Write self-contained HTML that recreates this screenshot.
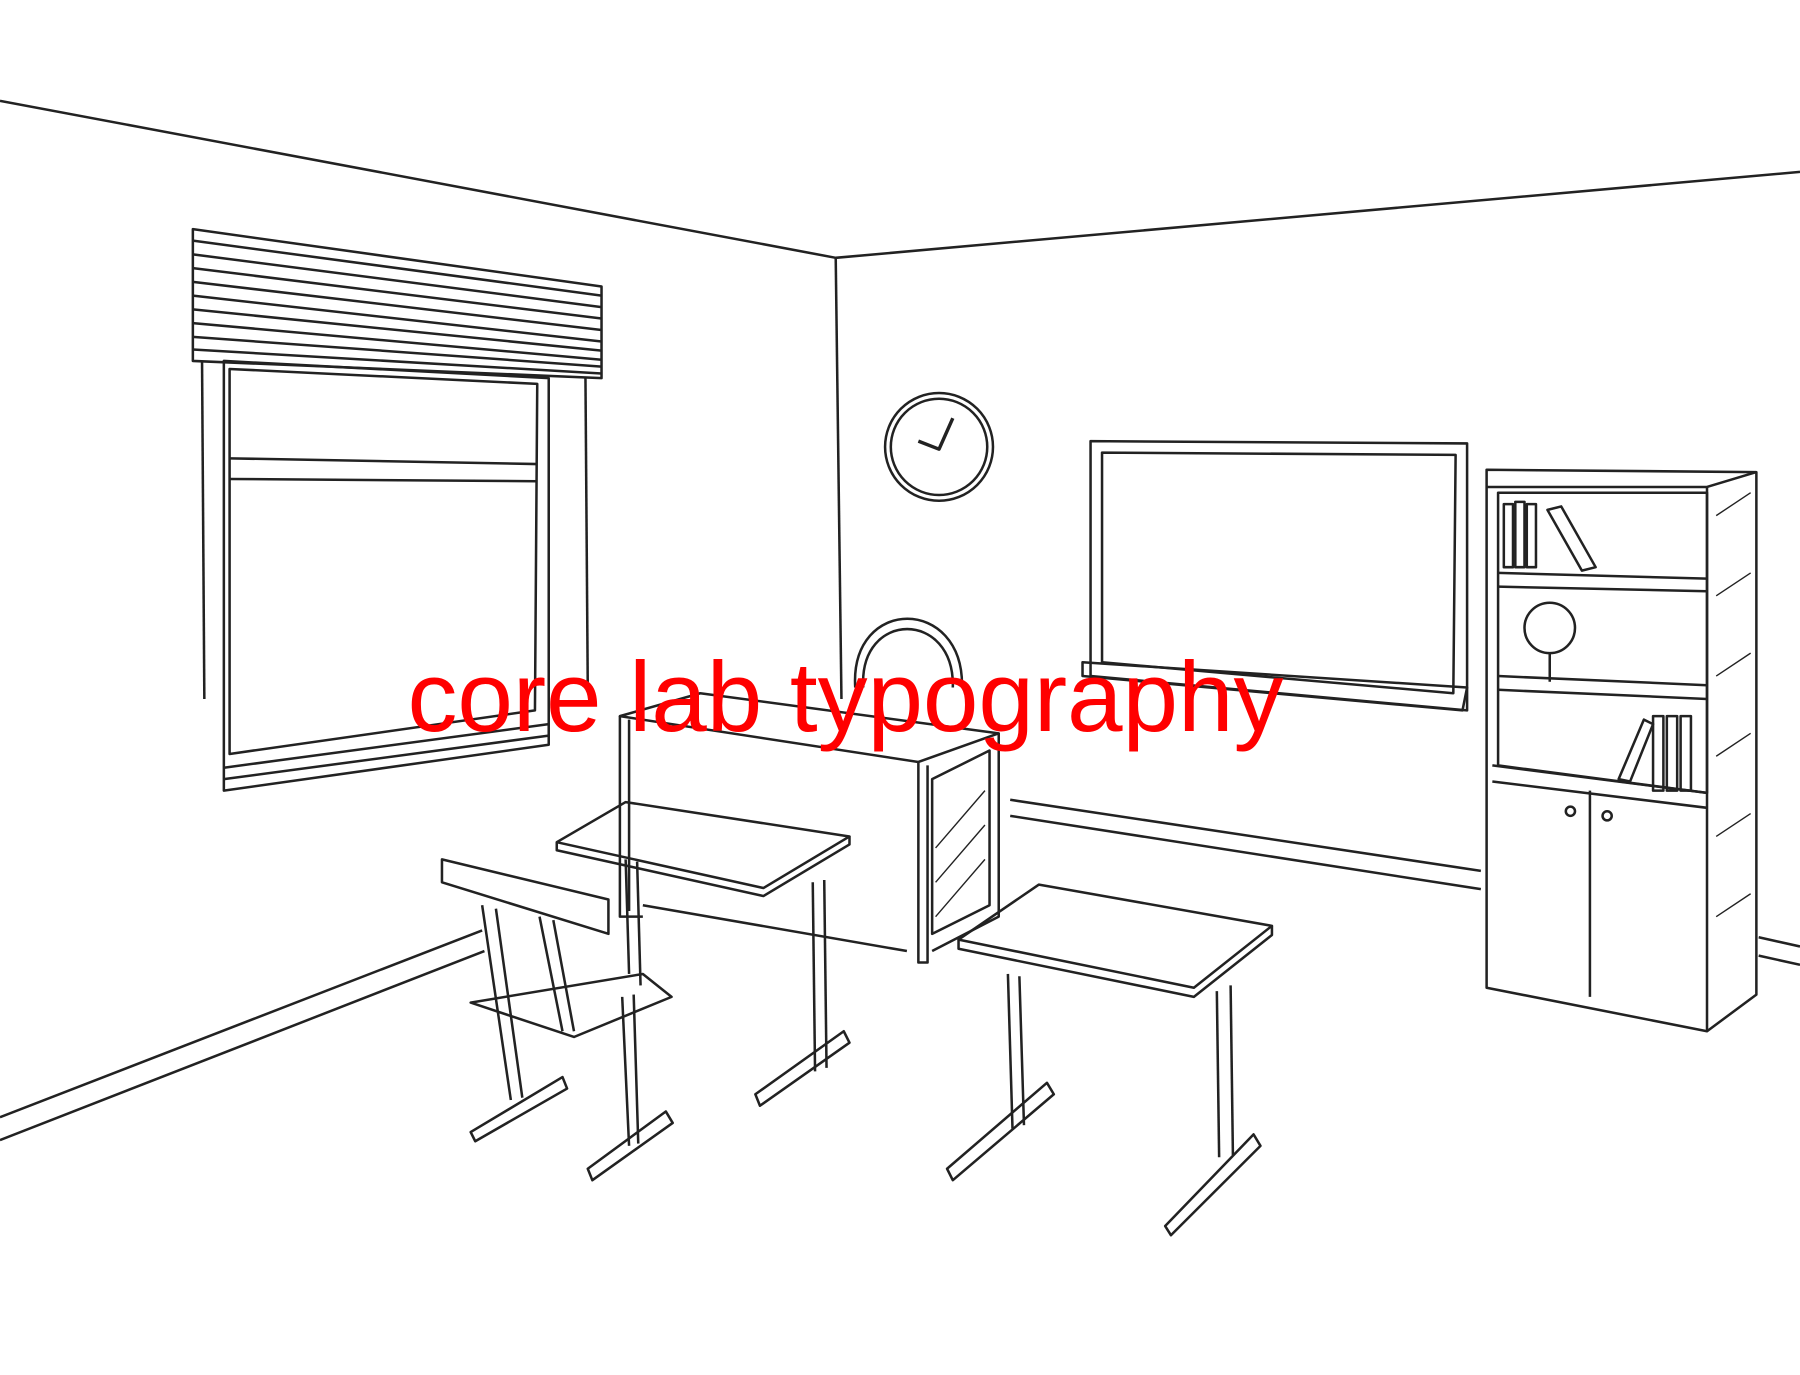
<!DOCTYPE html>
<html><head><meta charset="utf-8"><style>
html,body{margin:0;padding:0;background:#fff;}
svg{display:block;}
</style></head><body>
<svg width="1800" height="1375" viewBox="0 0 1568 1200" preserveAspectRatio="none" xmlns="http://www.w3.org/2000/svg">
<rect width="1568" height="1200" fill="#fff"/>
<g fill="none" stroke="#222" stroke-width="2.2" stroke-linejoin="round">
<polyline points="0,88 728,225 1568,150"/>
<line x1="728" y1="225" x2="733" y2="610"/>
<polyline points="0,975 420,812"/><polyline points="0,995 422,830"/>
<polyline points="880,698 1290,760"/><polyline points="880,712 1290,776"/>
<polyline points="1532,818 1568,826"/><polyline points="1532,834 1568,842"/>
<polygon points="168,200 524,250 524,330 168,315"/>
<polyline points="168,210 524,258"/><polyline points="168,222 524,268"/><polyline points="168,234 524,278"/>
<polyline points="168,246 524,288"/><polyline points="168,258 524,298"/><polyline points="168,270 524,306"/>
<polyline points="168,282 524,314"/><polyline points="168,294 524,320"/><polyline points="168,305 524,326"/>
<line x1="176" y1="315" x2="178" y2="610"/><line x1="510" y1="330" x2="512" y2="600"/>
<polygon points="195,315 478,330 478,650 195,690"/>
<polygon points="200,322 468,335 466,620 200,658"/>
<polyline points="200,400 468,405"/><polyline points="200,418 468,420"/>
<polyline points="195,670 478,632"/><polyline points="195,680 478,642"/>
<circle cx="818" cy="390" r="47"/><circle cx="818" cy="390" r="42"/>
<polyline points="800,385 818,392 830,365" stroke-width="3"/>
<polygon points="950,385 1278,387 1278,620 950,590"/>
<polygon points="960,395 1268,397 1266,605 960,578"/>
<polygon points="943,578 1278,600 1274,620 943,590"/>
<polygon points="1295,410 1530,412 1530,868 1487,900 1295,862"/>
<polyline points="1487,425 1487,900"/><polyline points="1295,425 1487,425 1530,412"/>
<polygon points="1305,430 1487,430 1487,692 1305,668"/>
<polyline points="1305,500 1487,505"/><polyline points="1305,512 1487,516"/>
<polyline points="1305,590 1487,598"/><polyline points="1305,602 1487,610"/>
<polyline points="1300,668 1487,692"/><polyline points="1300,682 1487,705"/>
<line x1="1385" y1="690" x2="1385" y2="870"/>
<circle cx="1368" cy="708" r="4"/><circle cx="1400" cy="712" r="4"/>
<rect x="1310" y="440" width="8" height="55"/><rect x="1320" y="438" width="8" height="57"/><rect x="1330" y="440" width="8" height="55"/>
<polygon points="1348,445 1360,442 1390,495 1378,498"/>
<circle cx="1350" cy="548" r="22"/><line x1="1350" y1="570" x2="1350" y2="595"/>
<rect x="1440" y="625" width="9" height="65"/><rect x="1452" y="625" width="9" height="65"/><rect x="1464" y="625" width="9" height="65"/>
<polygon points="1410,680 1432,628 1440,632 1420,682"/>
<g stroke-width="1.2"><line x1="1495" y1="450" x2="1525" y2="430"/><line x1="1495" y1="520" x2="1525" y2="500"/><line x1="1495" y1="590" x2="1525" y2="570"/><line x1="1495" y1="660" x2="1525" y2="640"/><line x1="1495" y1="730" x2="1525" y2="710"/><line x1="1495" y1="800" x2="1525" y2="780"/></g>
<path d="M745,600 C740,520 840,520 838,600"/><path d="M752,600 C748,532 832,532 830,600"/>
<polygon points="540,625 610,605 870,640 800,665"/>
<polyline points="540,625 540,800 560,800"/><polyline points="548,628 548,795"/>
<polyline points="800,665 800,840 808,840 808,668"/>
<polyline points="870,640 870,800 812,830"/>
<polygon points="812,680 862,655 862,790 812,815"/>
<g stroke-width="1.2"><line x1="815" y1="740" x2="858" y2="690"/><line x1="815" y1="770" x2="858" y2="720"/><line x1="815" y1="800" x2="858" y2="750"/></g>
<polyline points="560,790 790,830"/>
<polygon points="485,735 545,700 740,730 665,775"/><polyline points="485,735 485,742 665,782 740,737 740,730"/>
<line x1="545" y1="750" x2="548" y2="850"/><line x1="555" y1="752" x2="558" y2="860"/>
<line x1="708" y1="770" x2="710" y2="935"/><line x1="718" y1="768" x2="720" y2="932"/>
<polygon points="658,955 735,900 740,910 662,965"/>
<line x1="542" y1="870" x2="548" y2="1000"/><line x1="552" y1="868" x2="556" y2="998"/>
<polygon points="512,1020 580,970 586,980 516,1030"/>
<polygon points="385,750 530,785 530,815 385,770"/>
<line x1="420" y1="790" x2="445" y2="960"/><line x1="432" y1="793" x2="455" y2="958"/>
<line x1="470" y1="800" x2="490" y2="900"/><line x1="482" y1="803" x2="500" y2="900"/>
<polygon points="410,875 560,850 585,870 500,905"/>
<polygon points="410,988 490,940 494,950 414,996"/>
<polygon points="835,820 905,772 1108,808 1040,862"/><polyline points="835,820 835,828 1040,870 1108,816 1108,808"/>
<line x1="878" y1="850" x2="882" y2="985"/><line x1="888" y1="852" x2="892" y2="982"/>
<polygon points="825,1020 912,945 918,955 830,1030"/>
<line x1="1060" y1="865" x2="1062" y2="1010"/><line x1="1072" y1="860" x2="1074" y2="1008"/>
<polygon points="1015,1070 1092,990 1098,1000 1020,1078"/>
</g>
<text x="355" y="638" font-family="'Liberation Sans', Arial, sans-serif" font-size="87" textLength="763" fill="#ff0000">core lab typography</text>
</svg>
</body></html>
